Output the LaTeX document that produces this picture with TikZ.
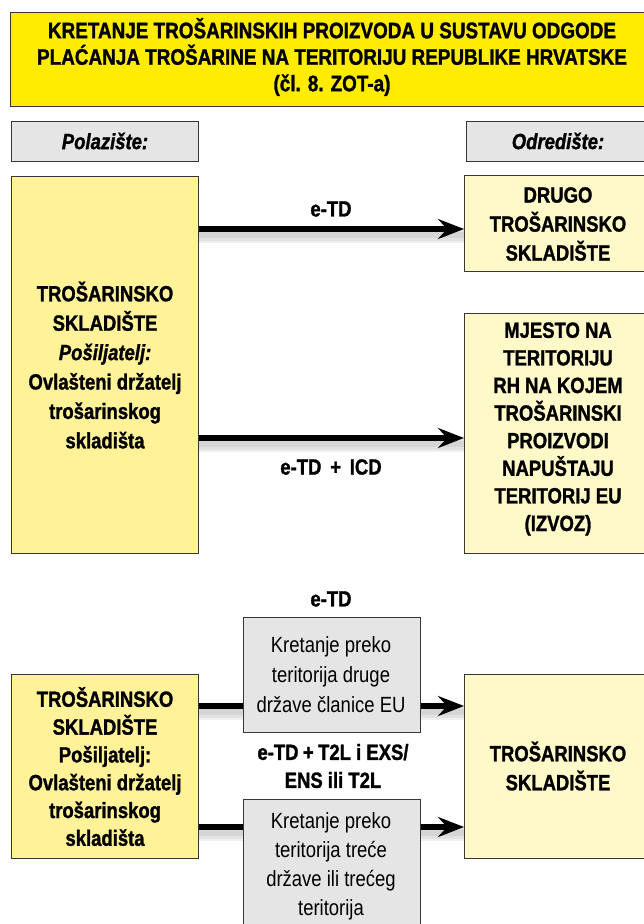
\documentclass[tikz,border=0pt]{standalone}
\usepackage{fontspec}
\setmainfont[FakeStretch=0.84, BoldFeatures={FakeBold=1.3}, BoldItalicFeatures={FakeBold=1.3}]{Liberation Sans}
\usetikzlibrary{arrows.meta}
\definecolor{titleY}{RGB}{255,236,0}
\definecolor{leftY}{RGB}{255,242,153}
\definecolor{rightY}{RGB}{255,248,200}
\definecolor{grayB}{RGB}{229,229,229}
\definecolor{edgeC}{RGB}{55,55,55}
\tikzset{
  boxbase/.style={draw=edgeC, line width=1.1pt, inner sep=0pt, anchor=north west},
  txt/.style={align=center, inner sep=0pt, font=\bfseries\fontsize{22}{29}\selectfont},
  gtxt/.style={align=center, inner sep=0pt, font=\fontsize{22}{30}\selectfont},
  lbl/.style={align=center, inner sep=0pt, font=\bfseries\fontsize{22}{28}\selectfont},
  arr/.style={line width=5.5pt, -{Stealth[length=26pt, width=20pt, inset=9pt]}},
  seg/.style={line width=5.5pt},
  shd/.style={line width=#1, black, opacity=0.06, transform canvas={yshift=-6pt}},
}
\newcommand{\shadowline}[2]{%
  \draw[shd=16pt] (#1) -- (#2);
  \draw[shd=11pt] (#1) -- (#2);
  \draw[shd=6pt] (#1) -- (#2);}
\begin{document}
\begin{tikzpicture}[x=1pt,y=-1pt]
\useasboundingbox (0,0) rectangle (644,924);
% title
\node[boxbase, fill=titleY, minimum width=640pt, minimum height=94pt] (title) at (10,12) {};
\node[txt, font=\bfseries\fontsize{22.5}{26.5}\selectfont] (titletext) at (332,57)
  {KRETANJE TROŠARINSKIH PROIZVODA U SUSTAVU ODGODE\\PLAĆANJA TROŠARINE NA TERITORIJU REPUBLIKE HRVATSKE\\(čl. 8. ZOT-a)};
% headers
\node[boxbase, fill=grayB, minimum width=187pt, minimum height=40pt] (pol) at (11,121) {};
\node[txt] (poltext) at (105,141) {\itshape Polazište:};
\node[boxbase, fill=grayB, minimum width=180pt, minimum height=40pt] (odr) at (466,121) {};
\node[txt] (odrtext) at (558,141) {\itshape Odredište:};
% upper part
\node[boxbase, fill=leftY, minimum width=187pt, minimum height=377pt] (left1) at (11,176) {};
\node[txt, font=\bfseries\fontsize{22}{29.4}\selectfont] (left1text) at (left1.center) {TROŠARINSKO\\SKLADIŠTE\\\textit{Pošiljatelj:}\\Ovlašteni držatelj\\trošarinskog\\skladišta};
\node[boxbase, fill=rightY, minimum width=182pt, minimum height=96pt] (drugo) at (464,175) {};
\node[txt] (drugotext) at (558,224) {DRUGO\\TROŠARINSKO\\SKLADIŠTE};
\node[boxbase, fill=rightY, minimum width=182pt, minimum height=240pt] (mjesto) at (464,313) {};
\node[txt, font=\bfseries\fontsize{22}{27.6}\selectfont] (mjestotext) at (558,429) {MJESTO NA\\TERITORIJU\\RH NA KOJEM\\TROŠARINSKI\\PROIZVODI\\NAPUŠTAJU\\TERITORIJ EU\\(IZVOZ)};
\coordinate (ya) at (0,229);
\coordinate (yb) at (0,438);
\coordinate (a1s) at (left1.east |- ya);
\coordinate (a1e) at (drugo.west |- ya);
\coordinate (a2s) at (left1.east |- yb);
\coordinate (a2e) at (mjesto.west |- yb);
\shadowline{a1s}{a1e}
\shadowline{a2s}{a2e}
\draw[arr] (a1s) -- (a1e);
\draw[arr] (a2s) -- (a2e);
\node[lbl] (l1) at (331,209) {e-TD};
\node[lbl] (l2) at (331,467) {e-TD\hspace{0.4em}+\hspace{0.4em}ICD};
% lower part
\node[boxbase, fill=leftY, minimum width=187pt, minimum height=184pt] (left2) at (11,674) {};
\node[txt, font=\bfseries\fontsize{22}{27.8}\selectfont] (left2text) at (left2.center) {TROŠARINSKO\\SKLADIŠTE\\Pošiljatelj:\\Ovlašteni držatelj\\trošarinskog\\skladišta};
\node[boxbase, fill=rightY, minimum width=182pt, minimum height=184pt] (right2) at (464,674) {};
\node[txt] (right2text) at (558,766) {TROŠARINSKO\\SKLADIŠTE};
\node[boxbase, fill=grayB, minimum width=177pt, minimum height=115pt] (g1) at (243,617) {};
\node[gtxt] (g1text) at (331,675) {Kretanje preko\\teritorija druge\\države članice EU};
\node[boxbase, fill=grayB, minimum width=177pt, minimum height=135pt] (g2) at (243,799) {};
\node[gtxt, font=\fontsize{22}{29}\selectfont] (g2text) at (331,866) {Kretanje preko\\teritorija treće\\države ili trećeg\\teritorija};
\coordinate (yc) at (0,706);
\coordinate (yd) at (0,827);
\coordinate (b1s) at (left2.east |- yc);
\coordinate (b1m) at (g1.west |- yc);
\coordinate (b1n) at (g1.east |- yc);
\coordinate (b1e) at (right2.west |- yc);
\coordinate (b2s) at (left2.east |- yd);
\coordinate (b2m) at (g2.west |- yd);
\coordinate (b2n) at (g2.east |- yd);
\coordinate (b2e) at (right2.west |- yd);
\shadowline{b1s}{b1m}
\shadowline{b1n}{b1e}
\shadowline{b2s}{b2m}
\shadowline{b2n}{b2e}
\draw[seg] (b1s) -- (b1m);
\draw[arr] (b1n) -- (b1e);
\draw[seg] (b2s) -- (b2m);
\draw[arr] (b2n) -- (b2e);
\node[lbl] (l3) at (331,599) {e-TD};
\node[lbl] (l4) at (333,766) {e-TD\hspace{0.2em}+\hspace{0.2em}T2L i EXS/\\ENS ili T2L};
\end{tikzpicture}
\end{document}
